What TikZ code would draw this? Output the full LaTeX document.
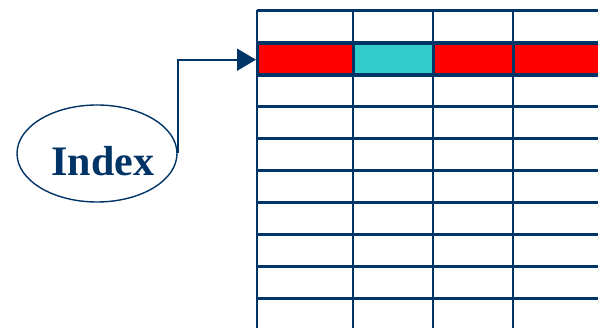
\documentclass[tikz,border=0pt]{standalone}
\usepackage{fontspec}
\setmainfont{Liberation Serif}
\usetikzlibrary{shapes.geometric,arrows.meta}
\definecolor{navy}{RGB}{0,51,102}
\definecolor{cellred}{RGB}{255,0,0}
\definecolor{cellcyan}{RGB}{51,204,204}
\tikzset{
  gridline/.style={draw=navy,line width=2.4pt},
  cellbox/.style={draw=navy,line width=2.4pt,rectangle,inner sep=0pt,anchor=north west},
  link/.style={draw=navy,line width=1.8pt,-{Triangle[length=19pt,width=22pt]}}
}
\begin{document}
\begin{tikzpicture}[x=1pt,y=-1pt]
\useasboundingbox (0,0) rectangle (598,328);
% highlighted row
\node[cellbox,fill=cellred,minimum width=96pt,minimum height=32pt] (rowa) at (257,42.5) {};
\node[cellbox,fill=cellcyan,minimum width=80pt,minimum height=32pt] (rowb) at (353,42.5) {};
\node[cellbox,fill=cellred,minimum width=80pt,minimum height=32pt] (rowc) at (433,42.5) {};
\node[cellbox,fill=cellred,minimum width=90pt,minimum height=32pt] (rowd) at (513,42.5) {};
% grid lines
\foreach \y in {10.5,42.5,74.5,106.5,138.5,170.5,202.5,234.5,266.5,298.5}
  \draw[gridline] (257,\y) -- (600,\y);
\foreach \x in {257,353,433,513}
  \draw[gridline] (\x,10.5) -- (\x,330);
% index ellipse
\node[ellipse,draw=navy,line width=1.4pt,minimum width=160pt,minimum height=97pt,inner sep=0pt] (idx) at (97,153.5) {};
\node[text=navy,font=\bfseries\fontsize{42}{42}\selectfont,inner sep=0pt] (idxtext) at (103,161) {Index};
% connector
\draw[link,shorten >=1pt] (idx.east) |- (rowa.west);
\end{tikzpicture}
\end{document}
